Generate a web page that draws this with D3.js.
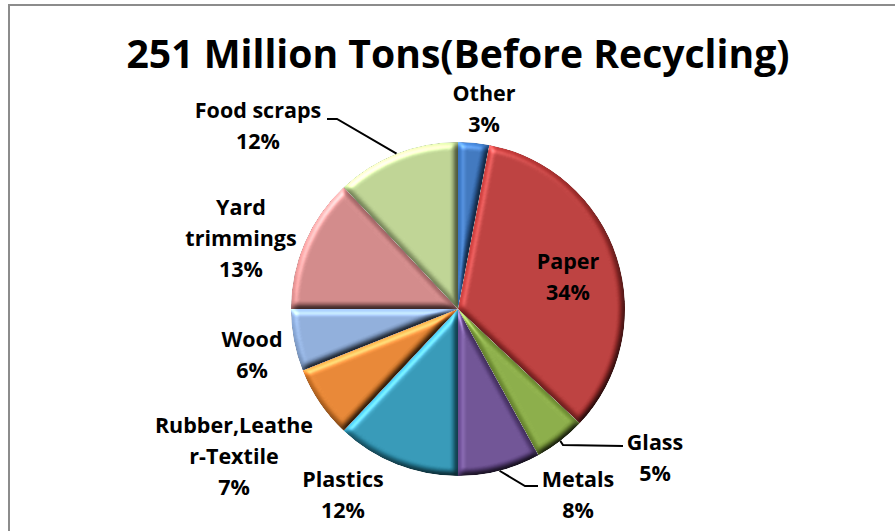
<!DOCTYPE html>
<html>
<head>
<meta charset="utf-8">
<script src="https://cdn.jsdelivr.net/npm/d3@7"></script>
<style>
  html, body { margin: 0; padding: 0; background: #fff; }
  svg { display: block; }
  text { font-family: "Open Sans", "Lato", sans-serif; font-weight: 700; fill: #000; }
</style>
</head>
<body>
<svg id="chart" width="895" height="531"></svg>
<script>
// Municipal solid waste generation by material, share of total
const title = "251 Million Tons(Before Recycling)";
const categories = ["Other", "Paper", "Glass", "Metals", "Plastics",
  "Rubber,Leather-Textile", "Wood", "Yard trimmings", "Food scraps"];
const shares = [3, 34, 5, 8, 12, 7, 6, 13, 12];
const labelLines = [["Other"], ["Paper"], ["Glass"], ["Metals"], ["Plastics"],
  ["Rubber,Leathe", "r-Textile"], ["Wood"], ["Yard", "trimmings"], ["Food scraps"]];
const colors = ["#3570bb", "#b83433", "#84a83e", "#67498f", "#2a93b3",
  "#e6802a", "#89a9d8", "#cf8383", "#bad18e"];

const W = 895, H = 531;
const cx = 458, cy = 309, R = 167;

const svg = d3.select("#chart");

// frame
svg.append("rect")
  .attr("x", 9).attr("y", 5).attr("width", W + 20).attr("height", H + 20)
  .attr("fill", "#fff").attr("stroke", "#8c8c8c").attr("stroke-width", 2);

// bevel lighting filter for slices
const defs = svg.append("defs");
const f = defs.append("filter").attr("id", "bevel")
  .attr("x", "-5%").attr("y", "-5%").attr("width", "110%").attr("height", "110%")
  .attr("color-interpolation-filters", "sRGB");
f.append("feGaussianBlur").attr("in", "SourceAlpha").attr("stdDeviation", 3.2).attr("result", "blur");
f.append("feDiffuseLighting").attr("in", "blur").attr("surfaceScale", 3.5)
  .attr("diffuseConstant", 1).attr("lighting-color", "#fff").attr("result", "diff")
  .append("feDistantLight").attr("azimuth", 235).attr("elevation", 50);
f.append("feComposite").attr("in", "SourceGraphic").attr("in2", "diff")
  .attr("operator", "arithmetic").attr("k1", 1.22).attr("k2", 0).attr("k3", 0).attr("k4", 0)
  .attr("result", "lit");
f.append("feSpecularLighting").attr("in", "blur").attr("surfaceScale", 3.5)
  .attr("specularConstant", 0.3).attr("specularExponent", 18).attr("lighting-color", "#fff")
  .attr("result", "spec")
  .append("feDistantLight").attr("azimuth", 235).attr("elevation", 45);
f.append("feComposite").attr("in", "spec").attr("in2", "SourceAlpha").attr("operator", "in").attr("result", "specIn");
f.append("feComposite").attr("in", "lit").attr("in2", "specIn")
  .attr("operator", "arithmetic").attr("k1", 0).attr("k2", 1).attr("k3", 1).attr("k4", 0)
  .attr("result", "shine");
f.append("feComposite").attr("in", "shine").attr("in2", "SourceAlpha").attr("operator", "in");

// title
svg.append("text")
  .attr("x", cx).attr("y", 68)
  .attr("text-anchor", "middle")
  .style("font-size", "40px")
  .attr("textLength", 663).attr("lengthAdjust", "spacingAndGlyphs")
  .text(title);

const data = categories.map((c, i) => ({ name: c, value: shares[i], lines: labelLines[i], color: colors[i] }));

const pie = d3.pie().value(d => d.value).sort(null).startAngle(0).endAngle(2 * Math.PI);
const arcs = pie(data);
const arc = d3.arc().innerRadius(0).outerRadius(R);
const rim = d3.arc().innerRadius(R).outerRadius(R);

const g = svg.append("g").attr("transform", `translate(${cx},${cy})`);
g.selectAll("path.slice").data(arcs).enter().append("path")
  .attr("class", "slice")
  .attr("d", arc)
  .attr("fill", d => d.data.color)
  .attr("filter", "url(#bevel)");

// label placement (centre x, first baseline) and leader elbows
const layout = {
  "Other": { x: 484, y: 101 },
  "Paper": { x: 568, y: 269 },
  "Glass": { x: 655, y: 450, leader: [[563, 445], [623, 446]] },
  "Metals": { x: 578, y: 487, leader: [[525, 486], [538, 486]] },
  "Plastics": { x: 343, y: 487 },
  "Rubber,Leather-Textile": { x: 234, y: 433 },
  "Wood": { x: 252, y: 347 },
  "Yard trimmings": { x: 241, y: 215 },
  "Food scraps": { x: 258, y: 118, leader: [[337, 119], [327, 119]] }
};
const lineH = 31;

arcs.forEach(a => {
  const L = layout[a.data.name];
  if (L.leader) {
    const [ex, ey] = rim.centroid(a);
    const pts = [[cx + ex, cy + ey], ...L.leader];
    svg.append("path")
      .attr("d", d3.line()(pts))
      .attr("fill", "none").attr("stroke", "#000").attr("stroke-width", 2);
  }
  const lines = [...a.data.lines, a.data.value + "%"];
  const t = svg.append("text").attr("text-anchor", "middle").style("font-size", "21.5px");
  lines.forEach((s, k) => {
    t.append("tspan").attr("x", L.x).attr("y", L.y + k * lineH).text(s);
  });
});
</script>
</body>
</html>
